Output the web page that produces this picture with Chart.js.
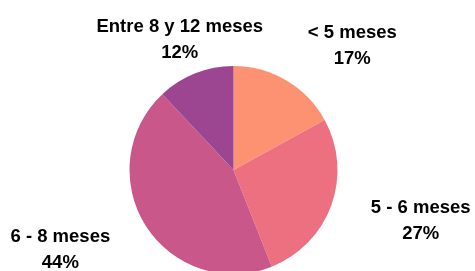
<!DOCTYPE html>
<html>
<head>
<meta charset="utf-8">
<script src="https://cdn.jsdelivr.net/npm/chart.js@4/dist/chart.umd.min.js"></script>
<style>
    html, body { margin: 0; padding: 0; background: #fff; overflow: hidden; }
    #wrap { width: 475px; height: 280px; }
</style>
</head>
<body>
<div id="wrap"><canvas id="pieChart" width="475" height="280"></canvas></div>
<script>
// Chart data
const categories = ['< 5 meses', '5 - 6 meses', '6 - 8 meses', 'Entre 8 y 12 meses'];
const percentages = [17, 27, 44, 12];
const sliceColors = ['#FD9272', '#EC7080', '#CA5789', '#9C4692'];

const LABEL_FONT = 'bold 18.5px "Liberation Sans", Arial, sans-serif';
const LINE_HEIGHT = 26;

/**
 * Draws two-line labels outside each slice, anchored on the slice's mid angle
 */
const outsideLabels = {
    id: 'outsideLabels',
    afterDraw(chart) {
        const ctx = chart.ctx;
        const meta = chart.getDatasetMeta(0);
        ctx.save();
        ctx.font = LABEL_FONT;
        ctx.fillStyle = '#000';
        ctx.textAlign = 'center';
        ctx.textBaseline = 'middle';
        meta.data.forEach((arc, i) => {
            const mid = (arc.startAngle + arc.endAngle) / 2;
            const s = Math.cos(mid);   // horizontal component
            const c = Math.sin(mid);   // vertical component (down positive)
            const dist = arc.outerRadius + 42;
            const px = arc.x + s * dist;
            const py = arc.y + c * dist;
            const lines = [categories[i], percentages[i] + '%'];
            const w = Math.max(...lines.map(t => ctx.measureText(t).width));
            const h = LINE_HEIGHT * lines.length;
            let cx = px, cy = py;
            if (Math.abs(s) > 0.45) {
                cx = px + Math.sign(s) * w / 2;
            } else {
                cy = py + Math.sign(c) * h / 2;
            }
            // keep the block inside the top edge
            cy = Math.max(cy, 12 + h / 2);
            lines.forEach((t, j) => {
                ctx.fillText(t, cx, cy - h / 2 + LINE_HEIGHT / 2 + j * LINE_HEIGHT + 1.5);
            });
        });
        ctx.restore();
    }
};

new Chart(document.getElementById('pieChart'), {
    type: 'pie',
    data: {
        labels: categories,
        datasets: [{
            data: percentages,
            backgroundColor: sliceColors,
            borderWidth: 0
        }]
    },
    options: {
        responsive: false,
        animation: false,
        layout: {
            padding: { top: 66, bottom: 6, left: 129.5, right: 137.5 }
        },
        plugins: {
            legend: { display: false },
            tooltip: { enabled: false }
        }
    },
    plugins: [outsideLabels]
});
</script>
</body>
</html>
